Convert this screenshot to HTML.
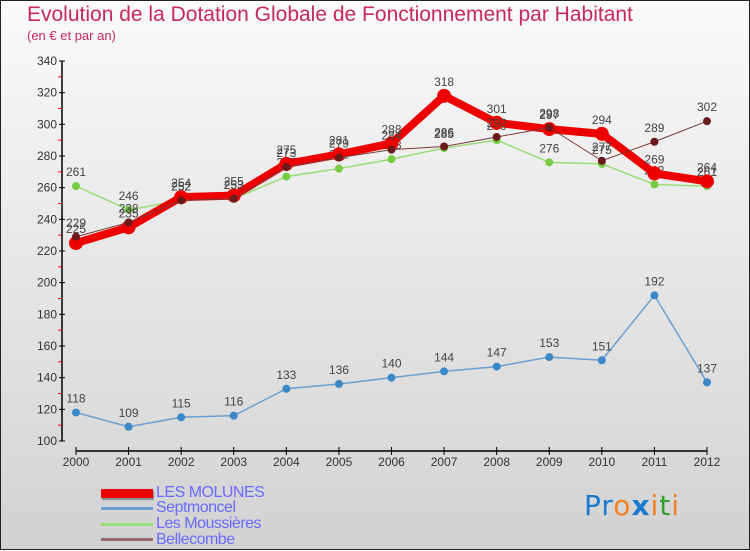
<!DOCTYPE html>
<html><head><meta charset="utf-8"><style>
body{margin:0;width:750px;height:550px;overflow:hidden;font-family:"Liberation Sans",sans-serif}
#wrap{position:relative;width:748px;height:548px;border:1px solid #222;background:linear-gradient(#fafafa,#d2d2d2)}
.t{position:absolute;color:#c8285a}
.leg{position:absolute;left:155px;font-size:16px;color:#6a6aff;letter-spacing:-0.5px;line-height:16px}
.sw{position:absolute;left:100px;width:52px}
</style></head><body>
<div id="wrap">
<div class="t" style="left:26px;top:2px;font-size:21px">Evolution de la Dotation Globale de Fonctionnement par Habitant</div>
<div class="t" style="left:26px;top:27px;font-size:13px">(en € et par an)</div>
<svg id="c" width="750" height="550" style="position:absolute;left:0;top:0"></svg>
<div class="sw" style="top:488px;height:9px;background:#e00;box-shadow:1px 2px 1px #888"></div>
<div class="leg" style="top:484px">LES MOLUNES</div>
<div class="sw" style="top:506px;height:3px;background:#6aa0d0"></div>
<div class="leg" style="top:499px">Septmoncel</div>
<div class="sw" style="top:522px;height:3px;background:#99dd77"></div>
<div class="leg" style="top:515px">Les Moussières</div>
<div class="sw" style="top:537px;height:3px;background:#9a6a6a"></div>
<div class="leg" style="top:531px">Bellecombe</div>
<div style="position:absolute;left:583px;top:488px;font-size:28px;font-family:'DejaVu Sans',sans-serif;letter-spacing:1px"><span style="color:#1a7ad0">Pr</span><span style="color:#f08020">o</span><span style="color:#1a7ad0;font-weight:bold">x</span><span style="color:#f08020">i</span><span style="color:#30a030">t</span><span style="color:#f08020">i</span></div>
</div>
<script>
const years=[2000,2001,2002,2003,2004,2005,2006,2007,2008,2009,2010,2011,2012];
const molunes=[225,235,254,255,275,281,288,318,301,297,294,269,264];
const septmoncel=[118,109,115,116,133,136,140,144,147,153,151,192,137];
const moussieres=[261,246,252,253,267,272,278,285,290,276,275,262,261];
const bellecombe=[229,238,252,253,273,279,284,286,292,298,277,289,302];
const yTicks=[100,120,140,160,180,200,220,240,260,280,300,320,340];
const NS="http://www.w3.org/2000/svg",svg=document.getElementById('c');
const X=i=>75+i*(706-75)/(years.length-1);
const Y=v=>440-(v-100)*380/240;
function mk(t,a){const e=document.createElementNS(NS,t);for(const k in a)e.setAttribute(k,a[k]);svg.appendChild(e);return e;}
let e=mk('line',{x1:61,y1:60,x2:61,y2:440,stroke:'#000','stroke-width':1.5});


e=mk('line',{x1:75,y1:450,x2:706,y2:450,stroke:'#000','stroke-width':1.5});


yTicks.forEach((v,i)=>{
 mk('line',{x1:58,x2:64,y1:Y(v),y2:Y(v),stroke:'#000'});
 if(i<yTicks.length-1)mk('line',{x1:57,x2:61,y1:Y(v+10),y2:Y(v+10),stroke:'#f00'});
 const t=mk('text',{x:56,y:Y(v)+4,'text-anchor':'end','font-size':12,fill:'#333'});t.textContent=v;
 
 
});
years.forEach((y,i)=>{
 mk('line',{x1:X(i),x2:X(i),y1:446,y2:454,stroke:'#000'});
 const t=mk('text',{x:X(i),y:465,'text-anchor':'middle','font-size':12,fill:'#333'});t.textContent=y;
 
 
});
function series(name,data,color,w,r,fill){
 const g=document.createElementNS(NS,'g');svg.appendChild(g);
 
 
 const p=document.createElementNS(NS,'polyline');
 p.setAttribute('points',data.map((v,i)=>X(i)+','+Y(v)).join(' '));
 p.setAttribute('fill','none');p.setAttribute('stroke',color);p.setAttribute('stroke-width',w);p.setAttribute('stroke-linejoin','round');
 g.appendChild(p);
 data.forEach((v,i)=>{
  const c=document.createElementNS(NS,'circle');
  c.setAttribute('cx',X(i));c.setAttribute('cy',Y(v));c.setAttribute('r',r);c.setAttribute('fill',fill);
  
  
  g.appendChild(c);
  const t=document.createElementNS(NS,'text');
  t.setAttribute('x',X(i));t.setAttribute('y',Y(v)-10);t.setAttribute('text-anchor','middle');t.setAttribute('font-size',12);t.setAttribute('fill','#444');
  t.textContent=v;
  
  
  g.appendChild(t);
 });
}
series('septmoncel-series',septmoncel,'#6aa0d0',1.5,4,'#3a88c8');
series('les-moussieres-series',moussieres,'#99dd77',1.5,4,'#77cc44');
series('les-molunes-series',molunes,'#ee0000',8,7,'#ee0000');
series('bellecombe-series',bellecombe,'#7a3a3a',1,4,'#6a1a1a');
</script>
</body></html>
